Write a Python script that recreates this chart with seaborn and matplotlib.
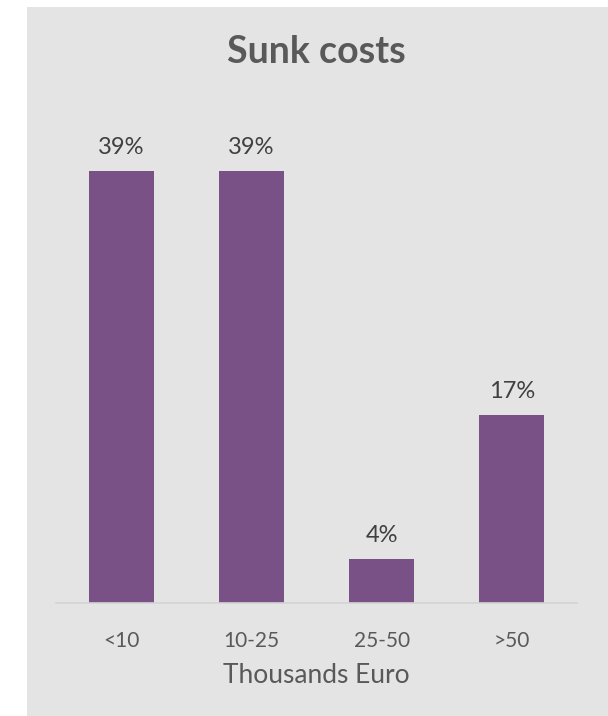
import matplotlib
matplotlib.use("Agg")
import matplotlib.pyplot as plt
import seaborn as sns
from matplotlib.patches import Rectangle

categories = ["<10", "10-25", "25-50", ">50"]
shares = [39, 39, 4, 17]
title = "Sunk costs"
xlabel = "Thousands Euro"

bg = "#e4e4e4"
bar_color = "#7a5186"

sns.set_theme(style="white")
plt.rcParams["font.family"] = ["Lato", "DejaVu Sans"]

fig = plt.figure(figsize=(6.08, 7.16), dpi=100, facecolor="white")
fig.patches.append(Rectangle((27 / 608, 0), 1 - 27 / 608, 1 - 7 / 716,
                             transform=fig.transFigure, facecolor=bg,
                             edgecolor="none", zorder=-10))

ax = fig.add_axes([56 / 608, 113 / 716, 521 / 608, 503 / 716])
ax.set_zorder(2)
ax.set_facecolor(bg)
ax.patch.set_alpha(0)

sns.barplot(x=categories, y=shares, width=0.5, color=bar_color,
            saturation=1, linewidth=0, ax=ax)

ax.set_ylim(0, 45.4)
ax.set_xlim(-0.5, 3.5)
ax.set_yticks([])
for side in ["left", "right", "top"]:
    ax.spines[side].set_visible(False)
ax.spines["bottom"].set_color("#d4d4d4")
ax.spines["bottom"].set_linewidth(1.2)

ax.bar_label(ax.containers[0], labels=[f"{v}%" for v in shares],
             padding=9, fontsize=17, color="#404040")

ax.tick_params(axis="x", length=0, pad=20, labelsize=15, labelcolor="#595959")
ax.set_xlabel(xlabel, fontsize=19, color="#595959", labelpad=9)
ax.set_ylabel("")

fig.text(316 / 608, 1 - 52 / 716, title, ha="center", va="center",
         fontsize=27, fontweight="bold", color="#595959", zorder=5)

fig.savefig("out.png", dpi=100, facecolor="white")
